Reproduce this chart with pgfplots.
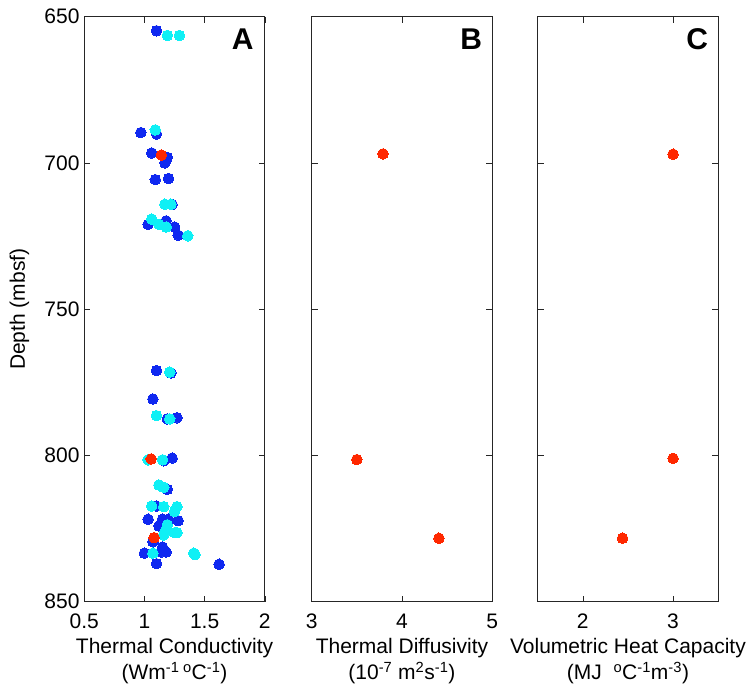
\documentclass[border=0pt]{standalone}
\usepackage{fontspec}
\setmainfont{Liberation Sans}
\usepackage{pgfplots}
\pgfplotsset{compat=1.18}
\definecolor{cblue}{RGB}{15,40,240}
\definecolor{ccyan}{RGB}{15,240,245}
\definecolor{cred}{RGB}{255,40,0}
\pgfplotsset{
  panel/.style={
    scale only axis, width=180.5pt, height=585pt,
    y dir=reverse, ymin=650, ymax=850, ytick={650,700,750,800,850},
    tick align=inside, major tick length=6pt,
    axis line style={line width=0.8pt, black!85},
    every tick/.style={black!85, line width=0.6pt},
    /pgf/number format/assume math mode=true,
    tick label style={font=\fontsize{21}{25}\selectfont},
    xticklabel style={yshift=-8.5pt},
    yticklabel style={xshift=-1.3pt},
    xlabel style={at={(axis description cs:0.5,0)}, anchor=north, yshift=-36.1pt, inner sep=0pt, align=center, font=\fontsize{21}{26.3}\selectfont},
    ylabel style={at={(axis description cs:-0.359,0.5)}, anchor=center, font=\fontsize{21}{25}\selectfont},
    clip=false,
  },
  dots/.style={only marks, color=#1, mark=*, mark size=5.3pt, mark options={draw=#1, fill=#1, line width=0pt}},
}
\begin{document}
\begin{tikzpicture}[x=1pt,y=1pt]
\useasboundingbox (0,0) rectangle (750,689);
% Panel A
\begin{axis}[panel, at={(84.3pt,87.3pt)}, anchor=south west,
  xmin=0.5, xmax=2, xtick={0.5,1,1.5,2}, xticklabels={0.5,1,1.5,2},
  xlabel={Thermal Conductivity\\(Wm\textsuperscript{-1}\,\textsuperscript{o}C\textsuperscript{-1})},
  ylabel={Depth (mbsf)}]
\addplot[dots=cblue] coordinates {
(1.10,654.8) (0.97,689.6) (1.10,690.1) (1.06,696.6) (1.19,698.1) (1.17,700.0)
(1.09,705.7) (1.20,705.3) (1.23,714.2) (1.03,721.0) (1.18,719.8) (1.25,721.9)
(1.28,724.7) (1.10,771.0) (1.22,771.8) (1.07,780.7) (1.27,787.1) (1.19,787.5)
(1.16,801.8) (1.23,800.9) (1.19,811.6) (1.10,817.3) (1.03,821.8) (1.15,821.8)
(1.20,821.8) (1.28,822.3) (1.12,824.1) (1.07,829.5) (1.15,831.3) (1.00,833.4)
(1.18,833.0) (1.14,833.0) (1.10,837.0) (1.62,837.2)
};
\addplot[dots=ccyan] coordinates {
(1.19,656.4) (1.29,656.4) (1.09,688.7) (1.17,714.1) (1.22,714.1) (1.06,719.2)
(1.12,721.0) (1.18,721.9) (1.36,724.9) (1.21,771.5) (1.10,786.4) (1.21,787.5)
(1.03,801.5) (1.15,801.5) (1.12,810.1) (1.16,810.9) (1.06,817.3) (1.16,817.5)
(1.27,817.5) (1.25,819.2) (1.19,823.7) (1.18,825.4) (1.25,826.4) (1.27,826.4)
(1.16,827.2) (1.07,833.4) (1.42,833.9) (1.41,833.4)
};
\addplot[dots=cred] coordinates {(1.14,697.3) (1.055,801.2) (1.08,828.1)};
\node[anchor=north east, inner sep=0pt, font=\fontsize{30}{30}\selectfont\bfseries] at (axis description cs:1,1) [xshift=-11pt, yshift=-11.6pt] {A};
\end{axis}
% Panel B
\begin{axis}[panel, at={(311.7pt,87.3pt)}, anchor=south west,
  xmin=3, xmax=5, xtick={3,4,5}, yticklabels={},
  xlabel={Thermal Diffusivity\\(10\textsuperscript{-7} m\textsuperscript{2}s\textsuperscript{-1})}]
\addplot[dots=cred] coordinates {(3.79,696.9) (3.50,801.4) (4.41,828.3)};
\node[anchor=north east, inner sep=0pt, font=\fontsize{30}{30}\selectfont\bfseries] at (axis description cs:1,1) [xshift=-10pt, yshift=-11.6pt] {B};
\end{axis}
% Panel C
\begin{axis}[panel, at={(537.7pt,87.3pt)}, anchor=south west,
  xmin=1.5, xmax=3.5, xtick={2,3}, yticklabels={},
  xlabel={Volumetric Heat Capacity\\(MJ\ \ \textsuperscript{o}C\textsuperscript{-1}m\textsuperscript{-3})}]
\addplot[dots=cred] coordinates {(3.00,697.0) (3.00,801.0) (2.44,828.3)};
\node[anchor=north east, inner sep=0pt, font=\fontsize{30}{30}\selectfont\bfseries] at (axis description cs:1,1) [xshift=-10pt, yshift=-11.6pt] {C};
\end{axis}
\end{tikzpicture}
\end{document}
